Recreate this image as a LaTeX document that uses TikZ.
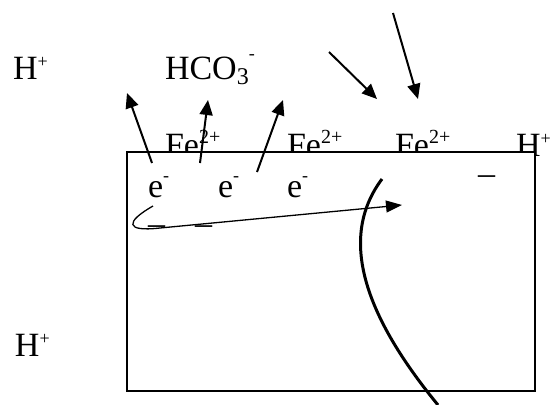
\documentclass[tikz,border=0pt]{standalone}
\usepackage{fontspec}
\setmainfont{Liberation Serif}
\usetikzlibrary{arrows.meta}
\definecolor{CellInk}{gray}{0}
\newcommand{\chg}[2][16pt]{\raisebox{#1}{\fontsize{18}{18}\selectfont #2}}
\newcommand{\oxd}[1]{\raisebox{13pt}{\fontsize{20}{20}\selectfont #1}}
\newcommand{\sbs}[1]{\raisebox{-5pt}{\fontsize{24}{24}\selectfont #1}}
\tikzset{
    cell/diagram/.style={
        x=1pt, y=-1pt,
        font=\fontsize{34}{40}\selectfont,
        text=CellInk,
        every node/.style={inner sep=0pt, outer sep=0pt, anchor=base west}
    },
    cell/wall/.style={draw=CellInk, fill=white, line width=2pt},
    cell/flux/.style={
        draw=CellInk, line width=2pt,
        -{Triangle[length=15pt, width=13pt]}
    },
    cell/path/.style={
        draw=CellInk, line width=1.3pt,
        -{Triangle[length=16pt, width=12pt]}
    },
    cell/front/.style={draw=CellInk, line width=3pt}
}
\begin{document}
\begin{tikzpicture}[cell/diagram]
    \useasboundingbox (0,0) rectangle (550,405);
    \node (hplusA) at (13,79) {H\chg[11.5pt]{+}};
    \node (hco) at (165,79) {HCO\sbs{3}\chg[20pt]{-}};
    \node (feA) at (165,156) {Fe\oxd{2+}};
    \node (feB) at (287,156) {Fe\oxd{2+}};
    \node (feC) at (395,156) {Fe\oxd{2+}};
    \node (hplusB) at (516,156) {H\chg[11.5pt]{+}};
    \node (hplusC) at (15,356) {H\chg[11.5pt]{+}};
    \draw[cell/wall] (127,152) rectangle (535,391);
    \node (eA) at (148,197) {e\chg{-}};
    \node (eB) at (218,197) {e\chg{-}};
    \node (eC) at (287,197) {e\chg{-}};
    \node (minA) at (148,234) {–};
    \node (minB) at (195,234) {–};
    \node (minC) at (478,184) {–};
    \coordinate (outA) at (152,163);
    \coordinate (outAt) at (127,93);
    \coordinate (outB) at (200,163);
    \coordinate (outBt) at (208,100);
    \coordinate (outC) at (257,172);
    \coordinate (outCt) at (283,100);
    \coordinate (inA) at (329,52);
    \coordinate (inAt) at (377,99);
    \coordinate (inB) at (393,13);
    \coordinate (inBt) at (418,99);
    \coordinate (flowS) at (153,206);
    \coordinate (flowM) at (160,228);
    \coordinate (flowE) at (402,205);
    \coordinate (frontA) at (382,179);
    \coordinate (frontB) at (438,405);
    \draw[cell/flux] (outA) -- (outAt);
    \draw[cell/flux] (outB) -- (outBt);
    \draw[cell/flux] (outC) -- (outCt);
    \draw[cell/flux] (inA) -- (inAt);
    \draw[cell/flux] (inB) -- (inBt);
    \draw[cell/path] (flowS) .. controls (125,222) and (125,232) .. (flowM) -- (flowE);
    \draw[cell/front] (frontA) .. controls (340,235) and (360,310) .. (frontB);
\end{tikzpicture}
\end{document}
